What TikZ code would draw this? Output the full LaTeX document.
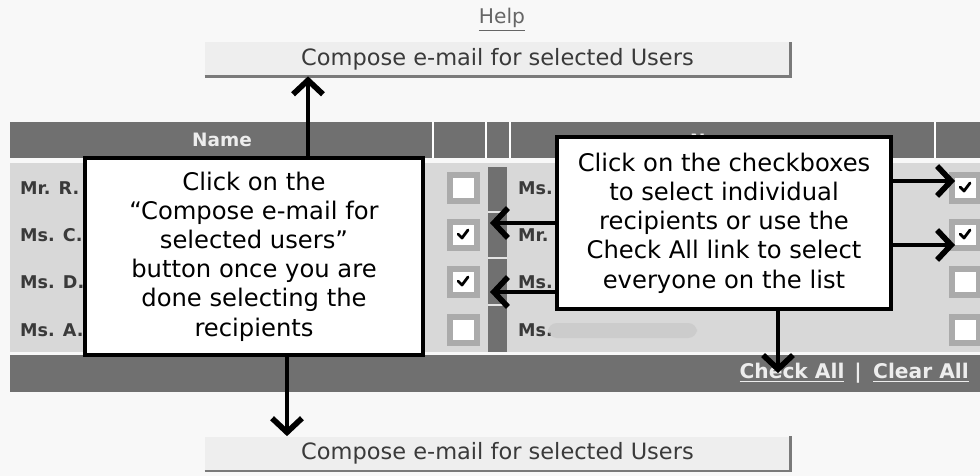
\documentclass[tikz,border=0pt]{standalone}
\usepackage{fontspec}
\setmainfont{DejaVu Sans}
\usetikzlibrary{arrows.meta}
\definecolor{pagebg}{HTML}{F8F8F8}
\definecolor{bargray}{HTML}{707070}
\definecolor{rowgray}{HTML}{D8D8D8}
\definecolor{boxgray}{HTML}{ABABAB}
\definecolor{btnfill}{HTML}{EEEEEE}
\definecolor{btnedge}{HTML}{7A7A7A}
\definecolor{txtgray}{HTML}{3A3A3A}
\definecolor{lightlbl}{HTML}{EDEDED}
\tikzset{
  pointer/.style={line width=2.3pt, -{Straight Barb[length=8pt,width=17pt,line width=3.2pt]}},
  tipbox/.style={draw, line width=2.3pt, fill=white, align=center, inner sep=0pt,
    font=\fontsize{13.8}{16.6}\selectfont},
  button/.style={fill=btnfill, minimum width=11.7cm, minimum height=0.68cm, inner sep=0pt,
    text=txtgray, font=\fontsize{12.8}{14}\selectfont},
  cbox/.style={fill=boxgray, minimum size=0.66cm, inner sep=0pt},
  cinner/.style={fill=white, minimum size=0.42cm, inner sep=0pt},
  namelbl/.style={anchor=west, text=txtgray, font=\bfseries\fontsize{10}{12}\selectfont},
  barlbl/.style={text=lightlbl, font=\bfseries\fontsize{11.5}{13}\selectfont},
  tick/.style={line width=1.6pt, line cap=round, line join=round},
}
\begin{document}
\begin{tikzpicture}[x=0.02cm, y=-0.02cm]
  \clip (0,0) rectangle (980,476);
  \fill[pagebg] (0,0) rectangle (980,476);
  % help link and the two buttons
  \node[text=black!60, font=\fontsize{11.5}{13}\selectfont] (help) at (502,20) {\underline{Help}};
  \node[button] (composeTop) at (497.5,59) {Compose e-mail for selected Users};
  \draw[btnedge, line width=1.4pt] (composeTop.south west) -- (composeTop.south east) -- (composeTop.north east);
  \node[button] (composeBot) at (497.5,453.5) {Compose e-mail for selected Users};
  \draw[btnedge, line width=1.4pt] (composeBot.south west) -- (composeBot.south east) -- (composeBot.north east);
  % table head
  \fill[bargray] (10,122) rectangle (980,158);
  \foreach \x in {433,486,510,935}{\draw[white, line width=1pt] (\x,122) -- (\x,158);}
  \node[barlbl, font=\bfseries\fontsize{10.5}{12}\selectfont] (headL) at (222,140) {Name};
  \node[barlbl, font=\bfseries\fontsize{10.5}{12}\selectfont] (headR) at (720,141) {Name};
  % rows
  \fill[rowgray] (10,163) rectangle (980,352);
  \node[fill=bargray, minimum width=0.38cm, minimum height=3.7cm, inner sep=0pt] (stripe) at (497.5,259.5) {};
  \foreach \y in {212,258,305}{\draw[rowgray!70!white, line width=.8pt] (488,\y) -- (507,\y);}
  \foreach \n/\m/\y/\a/\b [count=\i] in {Mr. R./Ms./188/0/1, Ms. C./Mr./235/1/1, Ms. D./Ms./282/1/0, Ms. A./Ms./330/0/0}{
    \node[namelbl] (nameL\i) at (14,\y) {\n};
    \node[namelbl] (nameR\i) at (512,\y) {\m};
    \node[cbox] (cbL\i) at (463,\y) {};
    \node[cinner] (inL\i) at (cbL\i) {};
    \draw[boxgray, line width=1.5pt] (inL\i.south west) -- (inL\i.north west) -- (inL\i.north east);
    \node[cbox] (cbR\i) at (965,\y) {};
    \node[cinner] (inR\i) at (cbR\i) {};
    \draw[boxgray, line width=1.5pt] (inR\i.south west) -- (inR\i.north west) -- (inR\i.north east);
    \ifnum\a=1 \draw[tick] ([shift={(-5,-1)}]cbL\i.center) -- ++(4,4) -- ++(6,-8); \fi
    \ifnum\b=1 \draw[tick] ([shift={(-5,-1)}]cbR\i.center) -- ++(4,4) -- ++(6,-8); \fi
  }
  \fill[gray!50, opacity=.45, rounded corners=5pt] (548,323) rectangle (697,338);
  % foot bar
  \fill[bargray] (10,355) rectangle (980,392);
  \node[barlbl] (clearAll) at (921,373) {\underline{Clear All}};
  \node[barlbl] (sepBar) at (858,373) {|};
  \node[barlbl] (checkAll) at (792,373) {\underline{Check All}};
  % call-outs
  \node[tipbox, minimum width=6.76cm, minimum height=3.94cm] (tipL) at (254,256.5)
    {Click on the\\“Compose e-mail for\\selected users”\\button once you are\\done selecting the\\recipients};
  \node[tipbox, minimum width=6.68cm, minimum height=3.44cm] (tipR) at (724,223)
    {Click on the checkboxes\\to select individual\\recipients or use the\\Check All link to select\\everyone on the list};
  % arrows
  \coordinate (hitC) at (490,223);
  \coordinate (hitD) at (490,292);
  \coordinate (hitR1) at (955,181);
  \coordinate (hitR2) at (955,245);
  \draw[pointer] (tipL.north -| 308,0) -- (composeTop.south -| 308,0);
  \draw[pointer] (tipL.south -| 287,0) -- (composeBot.north -| 287,0);
  \draw[pointer] (tipR.west |- hitC) -- (hitC);
  \draw[pointer] (tipR.west |- hitD) -- (hitD);
  \draw[pointer] (tipR.east |- hitR1) -- (hitR1);
  \draw[pointer] (tipR.east |- hitR2) -- (hitR2);
  \draw[pointer] (tipR.south -| 778,0) -- (checkAll.center -| 778,0);
\end{tikzpicture}
\end{document}
